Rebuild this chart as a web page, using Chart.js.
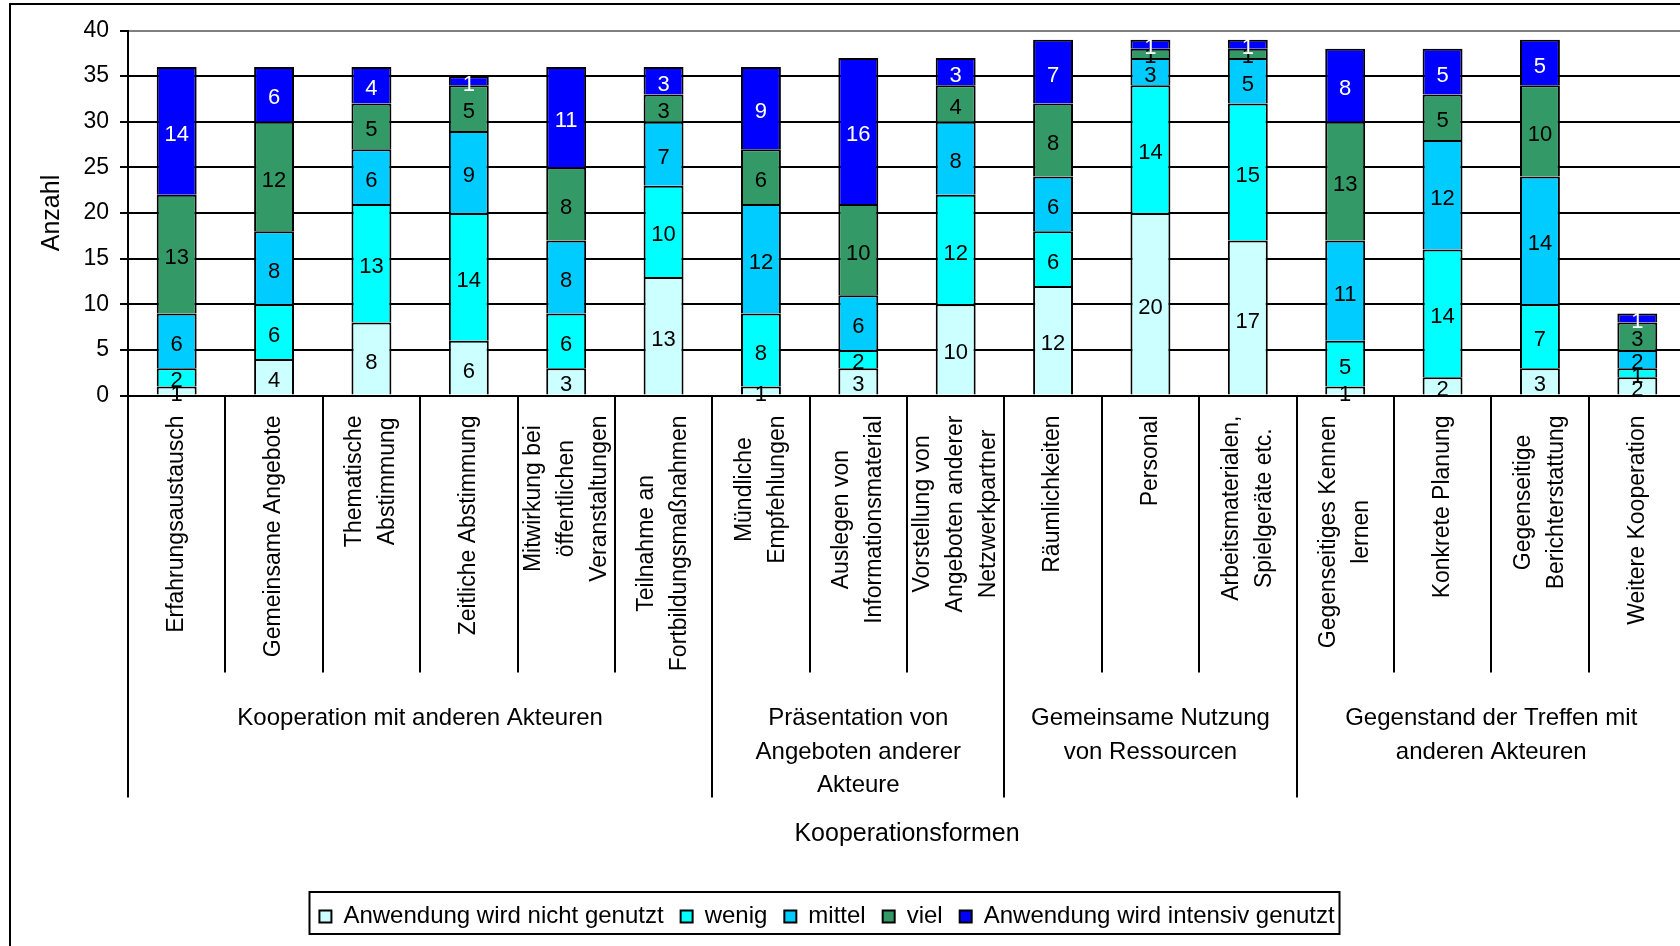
<!DOCTYPE html>
<html lang="de">
<head>
<meta charset="utf-8">
<title>Kooperationsformen</title>
<script src="https://cdn.jsdelivr.net/npm/chart.js@4/dist/chart.umd.min.js"></script>
<style>
  html, body { margin: 0; padding: 0; background: #fff; overflow: hidden; }
  #wrap { position: relative; width: 1686px; height: 946px; }
</style>
</head>
<body>
<div id="wrap"><canvas id="kooperation"></canvas></div>
<script>
// Kategorien (mehrzeilig, wie im Original umbrochen)
const kategorien = [
  ['Erfahrungsaustausch'],
  ['Gemeinsame Angebote'],
  ['Thematische', 'Abstimmung'],
  ['Zeitliche Abstimmung'],
  ['Mitwirkung bei', 'öffentlichen', 'Veranstaltungen'],
  ['Teilnahme an', 'Fortbildungsmaßnahmen'],
  ['Mündliche', 'Empfehlungen'],
  ['Auslegen von', 'Informationsmaterial'],
  ['Vorstellung von', 'Angeboten anderer', 'Netzwerkpartner'],
  ['Räumlichkeiten'],
  ['Personal'],
  ['Arbeitsmaterialen,', 'Spielgeräte etc.'],
  ['Gegenseitiges Kennen', 'lernen'],
  ['Konkrete Planung'],
  ['Gegenseitige', 'Berichterstattung'],
  ['Weitere Kooperation']
];

// Obergruppen und wie viele Kategorien jeweils dazugehören
const gruppen = [
  ['Kooperation mit anderen Akteuren'],
  ['Präsentation von', 'Angeboten anderer', 'Akteure'],
  ['Gemeinsame Nutzung', 'von Ressourcen'],
  ['Gegenstand der Treffen mit', 'anderen Akteuren']
];
const gruppenGroesse = [6, 3, 3, 4];

const serienNamen = ['Anwendung wird nicht genutzt', 'wenig', 'mittel', 'viel', 'Anwendung wird intensiv genutzt'];
const nichtGenutzt = [1, 4, 8, 6, 3, 13, 1, 3, 10, 12, 20, 17, 1, 2, 3, 2];
const wenig        = [2, 6, 13, 14, 6, 10, 8, 2, 12, 6, 14, 15, 5, 14, 7, 1];
const mittel       = [6, 8, 6, 9, 8, 7, 12, 6, 8, 6, 3, 5, 11, 12, 14, 2];
const viel         = [13, 12, 5, 5, 8, 3, 6, 10, 4, 8, 1, 1, 13, 5, 10, 3];
const intensiv     = [14, 6, 4, 1, 11, 3, 9, 16, 3, 7, 1, 1, 8, 5, 5, 1];

const farben = ['#CCFFFF', '#00FFFF', '#00CCFF', '#339966', '#0000FF'];

const yMin = 0;
const yMax = 40;
const ySchritt = 5;

const schrift = '"Liberation Sans", Arial, sans-serif';

// zeichnet Kategorie-/Gruppenbeschriftung, Trennlinien, Werte und Rahmen
const beschriftungPlugin = {
  id: 'beschriftung',
  afterLayout(chart) {
    // Legende sitzt im Original etwas links von der Mitte
    chart.legend.left -= 16;
    chart.legend.right -= 16;
  },
  afterDraw(chart) {
    const ctx = chart.ctx;
    const xs = chart.scales.x;
    const n = kategorien.length;
    const oben = xs.top;

    const grenze = (i) => {
      if (i === 0) return xs.left;
      if (i === n) return xs.right;
      return (xs.getPixelForValue(i - 1) + xs.getPixelForValue(i)) / 2;
    };

    // Gruppengrenzen
    const gruppenStart = [0];
    gruppenGroesse.forEach(g => gruppenStart.push(gruppenStart[gruppenStart.length - 1] + g));

    ctx.save();
    ctx.strokeStyle = '#000';
    ctx.lineWidth = 2;

    // Trennlinien unter der Achse
    for (let i = 0; i <= n; i++) {
      const xp = Math.round(grenze(i));
      const lang = gruppenStart.includes(i);
      ctx.beginPath();
      ctx.moveTo(xp, oben);
      ctx.lineTo(xp, oben + (lang ? 402 : 277));
      ctx.stroke();
    }

    // gedrehte Kategorienamen
    ctx.fillStyle = '#000';
    ctx.font = '23px ' + schrift;
    ctx.textAlign = 'center';
    ctx.textBaseline = 'middle';
    kategorien.forEach((zeilen, i) => {
      const breite = Math.max(...zeilen.map(z => ctx.measureText(z).width));
      ctx.save();
      ctx.translate(xs.getPixelForValue(i), oben + 20);
      ctx.rotate(-Math.PI / 2);
      zeilen.forEach((z, j) => {
        ctx.fillText(z, -breite / 2, (j - (zeilen.length - 1) / 2) * 33);
      });
      ctx.restore();
    });

    // Gruppennamen
    ctx.font = '24px ' + schrift;
    gruppen.forEach((zeilen, g) => {
      const mitte = (grenze(gruppenStart[g]) + grenze(gruppenStart[g + 1])) / 2;
      zeilen.forEach((z, j) => {
        ctx.fillText(z, mitte, oben + 323 + j * 33.5);
      });
    });

    // Werte in den Segmenten
    ctx.font = '22px ' + schrift;
    chart.data.datasets.forEach((ds, d) => {
      const meta = chart.getDatasetMeta(d);
      ctx.fillStyle = d === 4 ? '#fff' : '#000';
      meta.data.forEach((bar, i) => {
        const v = ds.data[i];
        if (!v) return;
        ctx.fillText(String(v), bar.x, (bar.y + bar.base) / 2 + 4);
      });
    });

    // Rahmen um die Legende
    const hb = chart.legend.legendHitBoxes;
    if (hb && hb.length) {
      const l = hb[0].left - 10;
      const last = hb[hb.length - 1];
      const r = last.left + last.width + 5;
      const cy = hb[0].top + hb[0].height / 2;
      ctx.strokeRect(Math.round(l) + 0.5, Math.round(cy - 24.5), Math.round(r - l), 42);
    }

    // Diagrammrahmen
    ctx.strokeRect(10, 4, 3000, 3000);
    ctx.restore();
  }
};

const serien = [nichtGenutzt, wenig, mittel, viel, intensiv];

new Chart(document.getElementById('kooperation'), {
  type: 'bar',
  data: {
    labels: kategorien,
    datasets: serien.map((werte, k) => ({
      label: serienNamen[k],
      data: werte,
      backgroundColor: farben[k],
      borderColor: '#000',
      borderWidth: 2,
      barPercentage: 0.41,
      categoryPercentage: 1
    }))
  },
  options: {
    responsive: true,
    maintainAspectRatio: false,
    animation: false,
    events: [],
    layout: {
      padding: { top: 30.5, left: 0, right: 0, bottom: 7.5 }
    },
    plugins: {
      tooltip: { enabled: false },
      legend: {
        position: 'bottom',
        labels: {
          color: '#000',
          font: { family: schrift, size: 24 },
          boxWidth: 12,
          boxHeight: 12,
          padding: 17
        }
      }
    },
    scales: {
      x: {
        stacked: true,
        afterFit(scale) { scale.height = 492; },
        ticks: { display: false },
        grid: { display: false },
        border: { color: '#000', width: 2 },
        title: {
          display: true,
          text: 'Kooperationsformen',
          color: '#000',
          font: { family: schrift, size: 25 },
          padding: { top: 0, bottom: 38.5 }
        }
      },
      y: {
        stacked: true,
        min: yMin,
        max: yMax,
        afterFit(scale) { scale.width = 128; },
        ticks: {
          stepSize: ySchritt,
          color: '#000',
          font: { family: schrift, size: 23 },
          padding: 11
        },
        grid: {
          color: (c) => (c.tick && c.tick.value === yMax) ? '#808080' : '#000',
          lineWidth: 2,
          tickLength: 8,
          tickColor: '#000'
        },
        border: { color: '#000', width: 2 },
        title: {
          display: true,
          text: 'Anzahl',
          color: '#000',
          font: { family: schrift, size: 25 },
          padding: { top: 37, bottom: 0 }
        }
      }
    }
  },
  plugins: [beschriftungPlugin]
});
</script>
</body>
</html>
